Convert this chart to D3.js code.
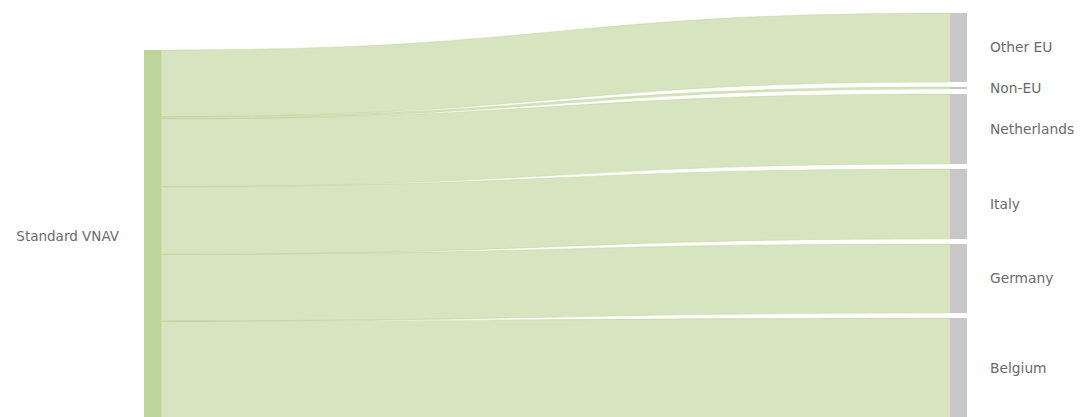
<!DOCTYPE html>
<html>
<head>
<meta charset="utf-8">
<script src="https://cdn.jsdelivr.net/npm/d3@7"></script>
<style>
  html, body { margin: 0; padding: 0; background: #fff; }
  svg { display: block; }
  text { font-family: "DejaVu Sans", Verdana, sans-serif; fill: #6a6a6a; }
</style>
</head>
<body>
<svg id="chart" width="1080" height="417"></svg>
<script>
// ---- data ----
const sourceName = "Standard VNAV";
const targets = ["Other EU", "Non-EU", "Netherlands", "Italy", "Germany", "Belgium"];
const values  = [69, 2, 70, 70, 69, 100];

// ---- layout ----
const nodeW = 17;
const srcX0 = 144, tgtX0 = 950;
const srcTop = 50, colBottom = 418, tgtTop = 13, pad = 5;

const total = d3.sum(values);
const svg = d3.select("#chart");

const cum = [0];
values.forEach((v, i) => cum.push(cum[i] + v));

// source column scale
const ySrc = d3.scaleLinear().domain([0, total]).range([srcTop, colBottom]);
// target column scale (value -> height), with padding between nodes
const kT = d3.scaleLinear().domain([0, total])
  .range([0, (colBottom - tgtTop) - pad * (values.length - 1)]);
const tgtY0 = values.map((v, i) => tgtTop + kT(cum[i]) + pad * i);
const tgtY1 = values.map((v, i) => tgtY0[i] + kT(v));

const x0 = srcX0 + nodeW, x1 = tgtX0, xm = (x0 + x1) / 2;

// links
const gLinks = svg.append("g");
values.forEach((v, i) => {
  const s0 = ySrc(cum[i]), s1 = ySrc(cum[i + 1]);
  const t0 = tgtY0[i], t1 = tgtY1[i];
  const p = d3.path();
  p.moveTo(x0, s0);
  p.bezierCurveTo(xm, s0, xm, t0, x1 + 1, t0);
  p.lineTo(x1 + 1, t1);
  p.bezierCurveTo(xm, t1, xm, s1, x0, s1);
  p.closePath();
  gLinks.append("path")
    .attr("d", p.toString())
    .attr("fill", "#afc982")
    .attr("fill-opacity", 0.5)
    .attr("stroke", "#afc982")
    .attr("stroke-opacity", 0.3)
    .attr("stroke-width", 1.2);
});

// source node
svg.append("rect")
  .attr("x", srcX0).attr("y", ySrc(0))
  .attr("width", nodeW).attr("height", ySrc(total) - ySrc(0))
  .attr("fill", "#bdd59b");

svg.append("text")
  .attr("x", srcX0 - 25)
  .attr("y", (ySrc(0) + ySrc(total)) / 2 + 2)
  .attr("dy", "0.35em")
  .attr("text-anchor", "end")
  .style("font-size", "13.5px")
  .text(sourceName);

// target nodes
targets.forEach((name, i) => {
  svg.append("rect")
    .attr("x", tgtX0).attr("y", tgtY0[i])
    .attr("width", nodeW).attr("height", Math.max(1, tgtY1[i] - tgtY0[i]))
    .attr("fill", "#c8c8c8");
  svg.append("text")
    .attr("x", tgtX0 + nodeW + 23)
    .attr("y", (tgtY0[i] + tgtY1[i]) / 2)
    .attr("dy", "0.35em")
    .style("font-size", "13.8px")
    .text(name);
});
</script>
</body>
</html>
